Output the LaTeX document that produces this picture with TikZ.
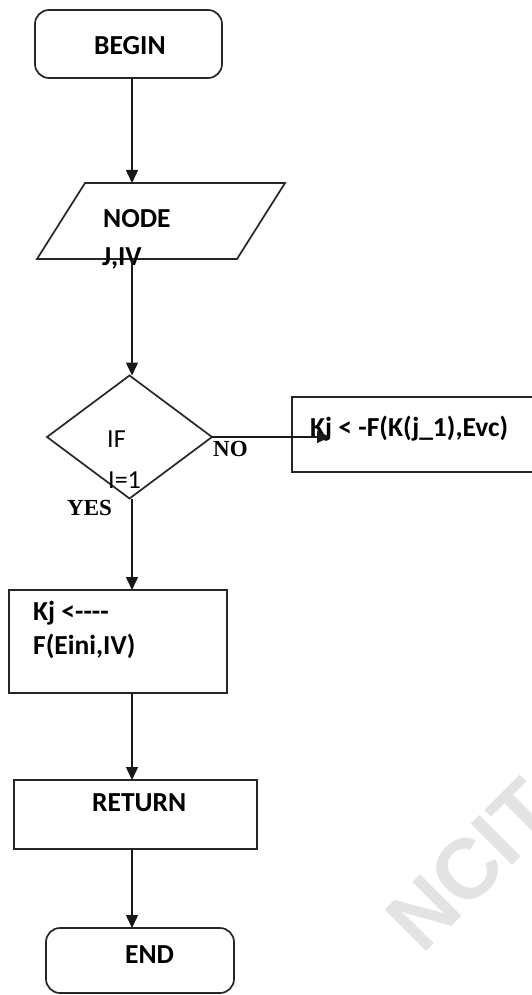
\documentclass[tikz,border=0pt]{standalone}
\usepackage{fontspec}
\setmainfont{Carlito}
\newfontfamily\timesfont{Liberation Serif}
\newfontfamily\arialfont{Liberation Sans}
\usetikzlibrary{arrows.meta,shapes.geometric}
\begin{document}
\begin{tikzpicture}[x=1pt,y=-1pt,
  conn/.style={line width=1.4pt, draw=black!90},
  arr/.style={conn, -{Triangle[length=13pt,width=12pt]}},
  shp/.style={line width=1.7pt, draw=black!85, inner sep=0pt, outer sep=0pt},
  blabel/.style={font=\fontsize{27.5}{31}\selectfont\bfseries, inner sep=0pt, anchor=base west},
  rlabel/.style={font=\fontsize{26}{30}\selectfont, inner sep=0pt, anchor=base west},
  tlabel/.style={font=\timesfont\fontsize{23}{26}\selectfont\bfseries, inner sep=0pt, anchor=base west},
]
\useasboundingbox (0,0) rectangle (532,995);
\fill[white] (0,0) rectangle (532,995);
\begin{scope}
\clip (0,0) rectangle (532,995);
% watermark
\node[font=\arialfont\bfseries\fontsize{85}{90}\selectfont, text=black!11, rotate=45, anchor=base west, inner sep=0pt] (wm) at (422,956) {NCIT};

\coordinate (spine) at (132,0);

% shapes
\node[shp, rectangle, rounded corners=14pt, minimum width=187, minimum height=68] (begin) at (128.5,44) {};
\node[inner sep=0pt, outer sep=0pt, minimum width=248, minimum height=76] (para) at (161,221) {};
\draw[shp] ([xshift=48pt]para.north west) -- (para.north east) -- ([xshift=-48pt]para.south east) -- (para.south west) -- cycle;
\node[shp, diamond, minimum width=165, minimum height=123] (dec) at (129.5,437) {};
\node[shp, rectangle, minimum width=268, minimum height=75] (kjno) at (426,434.5) {};
\node[shp, rectangle, minimum width=218, minimum height=103] (kjyes) at (118,641.5) {};
\node[shp, rectangle, minimum width=243, minimum height=69] (ret) at (135.5,814.5) {};
\node[shp, rectangle, rounded corners=14pt, minimum width=188, minimum height=65] (endn) at (140,960.5) {};

% texts
\node[blabel] (tbegin) at (94,55) {BEGIN};
\node[blabel] (tnode) at (103,227) {NODE};
\node[blabel] (tjiv) at (102,265) {J,IV};
\node[rlabel] (tif) at (107,447) {IF};
\node[rlabel] (ti) at (108,488) {I=1};
\node[tlabel] (tno) at (213,456) {NO};
\node[tlabel] (tyes) at (67,515) {YES};
\node[blabel] (tkjno) at (310,436) {Kj < {-}F(K(j\_1),Evc)};
\node[blabel] (tkj1) at (33,620) {Kj <{-}{-}{-}{-}};
\node[blabel] (tkj2) at (33,654) {F(Eini,IV)};
\node[blabel] (tret) at (92,811) {RETURN};
\node[blabel] (tend) at (125,963) {END};

% connectors
\coordinate (noend) at (330,437);
\draw[arr] (begin.south -| spine) -- (para.north -| spine);
\draw[arr] (para.south -| spine) -- (dec.north -| spine);
\draw[arr] (dec.east) -- (noend);
\draw[arr] (dec.south -| spine) -- (kjyes.north -| spine);
\draw[arr] (kjyes.south -| spine) -- (ret.north -| spine);
\draw[arr] (ret.south -| spine) -- (endn.north -| spine);
\end{scope}
\end{tikzpicture}
\end{document}
